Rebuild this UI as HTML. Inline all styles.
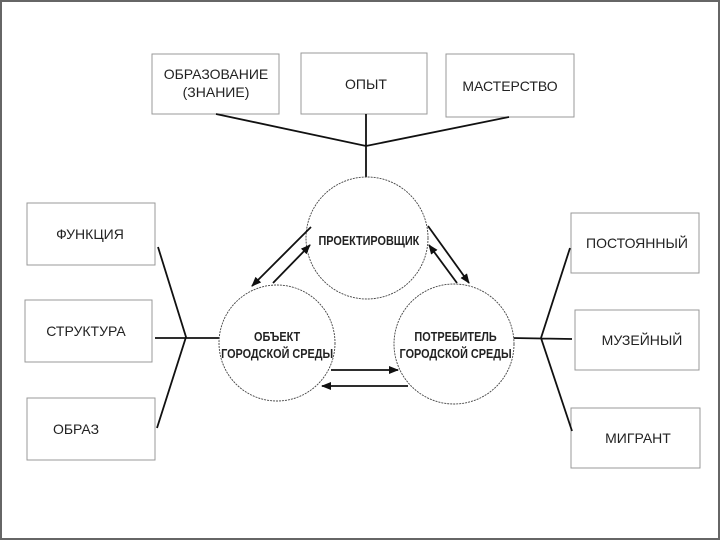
<!DOCTYPE html>
<html><head><meta charset="utf-8"><style>
body{margin:0;background:#fff;}
svg{display:block;}
text{font-family:"Liberation Sans",sans-serif;fill:#222;}
</style></head><body>
<svg width="720" height="540" viewBox="0 0 720 540" xmlns="http://www.w3.org/2000/svg">
<defs><marker id="a" markerWidth="10" markerHeight="8" refX="9" refY="4" orient="auto" markerUnits="userSpaceOnUse"><path d="M0,0 L10,4 L0,8 Z" fill="#111"/></marker></defs>
<rect x="1" y="1" width="718" height="538" fill="none" stroke="#666" stroke-width="2"/>
<g fill="#fff" stroke="#999" stroke-width="1">
<rect x="152" y="54" width="127" height="60"/>
<rect x="301" y="53" width="126" height="61"/>
<rect x="446" y="54" width="128" height="63"/>
<rect x="27" y="203" width="128" height="62"/>
<rect x="25" y="300" width="127" height="62"/>
<rect x="27" y="398" width="128" height="62"/>
<rect x="571" y="213" width="128" height="60"/>
<rect x="575" y="310" width="124" height="60"/>
<rect x="571" y="408" width="129" height="60"/>
</g>
<g fill="none" stroke="#111" stroke-width="1.8">
<path d="M216,114 L366,146 L509,117 M366,114 L366,177"/>
<path d="M158,247 L186,337 L157,428 M155,338 L219,338"/>
<path d="M570,248 L541,338 L572,431 M512,338 L572,339"/>
</g>
<g fill="#fff" stroke="#444" stroke-width="0.9" stroke-dasharray="2,1">
<circle cx="367" cy="238" r="61"/>
<circle cx="277" cy="343" r="58"/>
<circle cx="454" cy="344" r="60"/>
</g>
<g stroke="#111" stroke-width="1.8" marker-end="url(#a)">
<line x1="311" y1="227" x2="252" y2="286"/>
<line x1="273" y1="283" x2="310" y2="245"/>
<line x1="428" y1="226" x2="469" y2="283"/>
<line x1="457" y1="283" x2="429" y2="245"/>
<line x1="331" y1="370" x2="398" y2="370"/>
<line x1="408" y1="386" x2="322" y2="386"/>
</g>
<g font-size="14" text-anchor="middle">
<text x="216" y="79">ОБРАЗОВАНИЕ</text>
<text x="216" y="97">(ЗНАНИЕ)</text>
<text x="366" y="89">ОПЫТ</text>
<text x="510" y="91">МАСТЕРСТВО</text>
<text x="90" y="239">ФУНКЦИЯ</text>
<text x="86" y="336">СТРУКТУРА</text>
<text x="76" y="434">ОБРАЗ</text>
<text x="637" y="248">ПОСТОЯННЫЙ</text>
<text x="642" y="345">МУЗЕЙНЫЙ</text>
<text x="638" y="443">МИГРАНТ</text>
</g>
<g font-size="12.8" font-weight="bold" text-anchor="middle" transform="scale(0.85,1)">
<text x="434" y="245">ПРОЕКТИРОВЩИК</text>
<text x="326" y="341">ОБЪЕКТ</text>
<text x="326" y="358">ГОРОДСКОЙ СРЕДЫ</text>
<text x="536" y="341">ПОТРЕБИТЕЛЬ</text>
<text x="536" y="358">ГОРОДСКОЙ СРЕДЫ</text>
</g>
</svg>
</body></html>
